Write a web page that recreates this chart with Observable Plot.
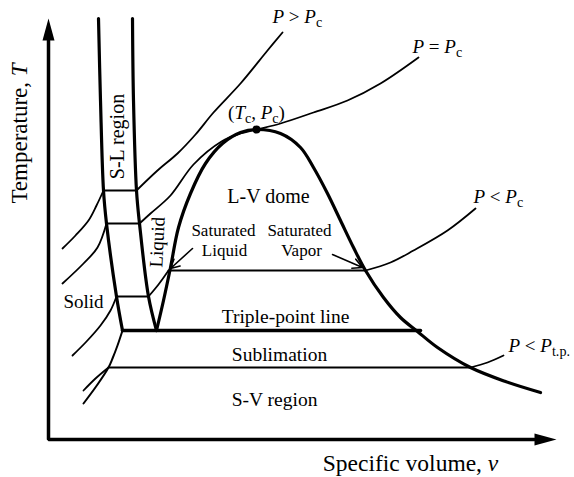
<!DOCTYPE html>
<html><head><meta charset="utf-8">
<script src="https://cdn.jsdelivr.net/npm/d3@7"></script>
<script src="https://cdn.jsdelivr.net/npm/@observablehq/plot@0.6"></script>
<style>html,body{margin:0;background:#fff}#chart svg{display:block;background:#fff}</style>
</head><body><div id="chart"></div>
<script>
// Schematic T-v diagram, values in drawing units: v to the right, T-depth (down = lower T)
const dome = [[156,330],[163,300],[170,267],[178,227],[190,193],[205,163],[222,143],[240,132],[256,129],[280,133],[300,147],[313,167],[327,193],[340,220],[353,247],[365,270],[383,297],[400,317],[417,331],[437,347],[470,367],[505,381],[540,392]];
const slLeft = [[98,18],[100,100],[103,190],[106,223],[116,296],[122,330]];
const slRight = [[132,18],[133,100],[136,190],[139,223],[148,296],[156,330]];
const svCurve = [[122,330],[117,345],[112,358],[108,367],[97,384],[83,403]];
const triplePoint = [[122,330],[420,330]];
const isoAbove = [
  [[282,32],[267,50],[240,83],[213,112],[195,134],[177,153],[157,170],[136,190]],
  [[136,190],[103,190]],
  [[103,190],[96,205],[88,220],[75,235],[62,248]]
];
const isoCrit = [
  [[418,57],[380,83],[347,100],[313,112],[280,123],[256,129],[240,133],[221,141],[193,164],[170,195],[150,213],[139,223]],
  [[139,223],[106,223]],
  [[106,223],[97,247],[83,263],[62,283]]
];
const isoBelow = [
  [[475,208],[447,230],[413,250],[390,262],[365,270]],
  [[365,270],[168,270]],
  [[168,270],[158,284],[148,296]],
  [[148,296],[116,296]],
  [[116,296],[110,310],[100,325],[86,341],[72,355]]
];
const isoTriple = [
  [[503,355],[487,362],[470,367]],
  [[470,367],[108,367]],
  [[108,367],[95,378],[83,390]]
];
const critical = [[256,129]];
const axisPath = [[48,40],[48,439],[534,439]];
const axisHeads = [[48,40,0],[534,439,90]];
const pointers = [[192,248,170,268],[332,254,362,267]];
// labels: [text, v, T, fontSize, rotate]
const labelsMid = [
  ["L-V dome",268,202,20,0],
  ["Saturated",223,235,17,0],["Liquid",224,255,17,0],
  ["Saturated",299,235,17,0],["Vapor",301,255,17,0],
  ["Triple-point line",285,322,19.5,0],
  ["Sublimation",279,360,19.5,0],
  ["S-V region",274,405,19.5,0],
  ["Solid",83,307,19,0],
  ["(*T*_{c}, *P*_{c})",256,118,19,0],
  ["Specific volume, *v*",410,470,23.5,0],
  ["Temperature, *T*",26,133,23,-90],
  ["S-L region",123,136,20,-90],
  ["Liquid",163,242,19,-87]
];
const labelsStart = [
  ["*P* > *P*_{c}",272,22,19,0],
  ["*P* = *P*_{c}",412,52,19,0],
  ["*P* < *P*_{c}",473,202,19,0],
  ["*P* < *P*_{t.p.}",508,351,19,0]
];

const toRows = (segs, id) => segs.flatMap((s, i) => s.map(([v, T]) => ({v, T, id: id + i})));
const thick = [...toRows([dome],"dome"), ...toRows([slLeft],"sll"), ...toRows([slRight],"slr")];
const thin = [...toRows(isoAbove,"a"), ...toRows(isoCrit,"b"), ...toRows(isoBelow,"c"), ...toRows(isoTriple,"d")];
const lab = a => a.map(([text, v, T, size, rotate]) => ({text, v, T, size, rotate}));

const headSymbol = {draw(ctx){ctx.moveTo(0,-22);ctx.lineTo(6,0);ctx.lineTo(-6,0);ctx.closePath();}};
const font = "'Liberation Serif', 'Times New Roman', serif";

const chart = Plot.plot({
  width: 574, height: 477, margin: 0,
  x: {domain: [0, 574], axis: null},
  y: {domain: [0, 477], reverse: true, axis: null},
  style: {fontFamily: font, background: "#fff"},
  marks: [
    Plot.line(toRows([axisPath],"ax"), {x:"v", y:"T", z:"id", stroke:"black", strokeWidth:3.5, strokeLinejoin:"miter"}),
    Plot.dot(axisHeads.map(([v,T,r])=>({v,T,r})), {x:"v", y:"T", rotate:"r", symbol: headSymbol, fill:"black", stroke:"none", r: 5}),
    Plot.line(thin, {x:"v", y:"T", z:"id", curve:"catmull-rom", stroke:"black", strokeWidth:1.8}),
    Plot.line(toRows([svCurve],"sv"), {x:"v", y:"T", z:"id", curve:"catmull-rom", stroke:"black", strokeWidth:2}),
    Plot.line(toRows([triplePoint],"tp"), {x:"v", y:"T", z:"id", stroke:"black", strokeWidth:3.5}),
    Plot.line(thick, {x:"v", y:"T", z:"id", curve:"catmull-rom", stroke:"black", strokeWidth:3.2}),
    Plot.dot(critical.map(([v,T])=>({v,T})), {x:"v", y:"T", r:4, fill:"black"}),
    Plot.arrow(pointers.map(([x1,y1,x2,y2])=>({x1,y1,x2,y2})), {x1:"x1", y1:"y1", x2:"x2", y2:"y2", stroke:"black", strokeWidth:1.6, headLength:10, headAngle:55}),
    Plot.text(lab(labelsMid), {x:"v", y:"T", text:"text", fontSize:"size", rotate:"rotate", textAnchor:"middle", lineAnchor:"bottom", fill:"black"}),
    Plot.text(lab(labelsStart), {x:"v", y:"T", text:"text", fontSize:"size", rotate:"rotate", textAnchor:"start", lineAnchor:"bottom", fill:"black"})
  ]
});
document.getElementById("chart").appendChild(chart);

// rich text: *italic*, _{subscript}
const NS = "http://www.w3.org/2000/svg";
d3.select(chart).selectAll("text").each(function(){
  const s = this.textContent;
  if (!/[*_]/.test(s)) return;
  const fs = parseFloat(getComputedStyle(this).fontSize) || 19;
  this.textContent = "";
  const re = /\*([^*]+)\*|_\{([^}]+)\}|([^*_]+)/g;
  let m, shifted = false;
  while ((m = re.exec(s))) {
    const ts = document.createElementNS(NS, "tspan");
    if (m[2]) {
      ts.textContent = m[2];
      ts.setAttribute("font-size", (fs*0.74).toFixed(1));
      ts.setAttribute("dy", (fs*0.26).toFixed(1));
      shifted = true;
    } else {
      ts.textContent = m[1] || m[3];
      if (m[1]) ts.setAttribute("font-style", "italic");
      if (shifted) { ts.setAttribute("dy", (-fs*0.26).toFixed(1)); shifted = false; }
    }
    this.appendChild(ts);
  }
});
</script>
</body></html>
